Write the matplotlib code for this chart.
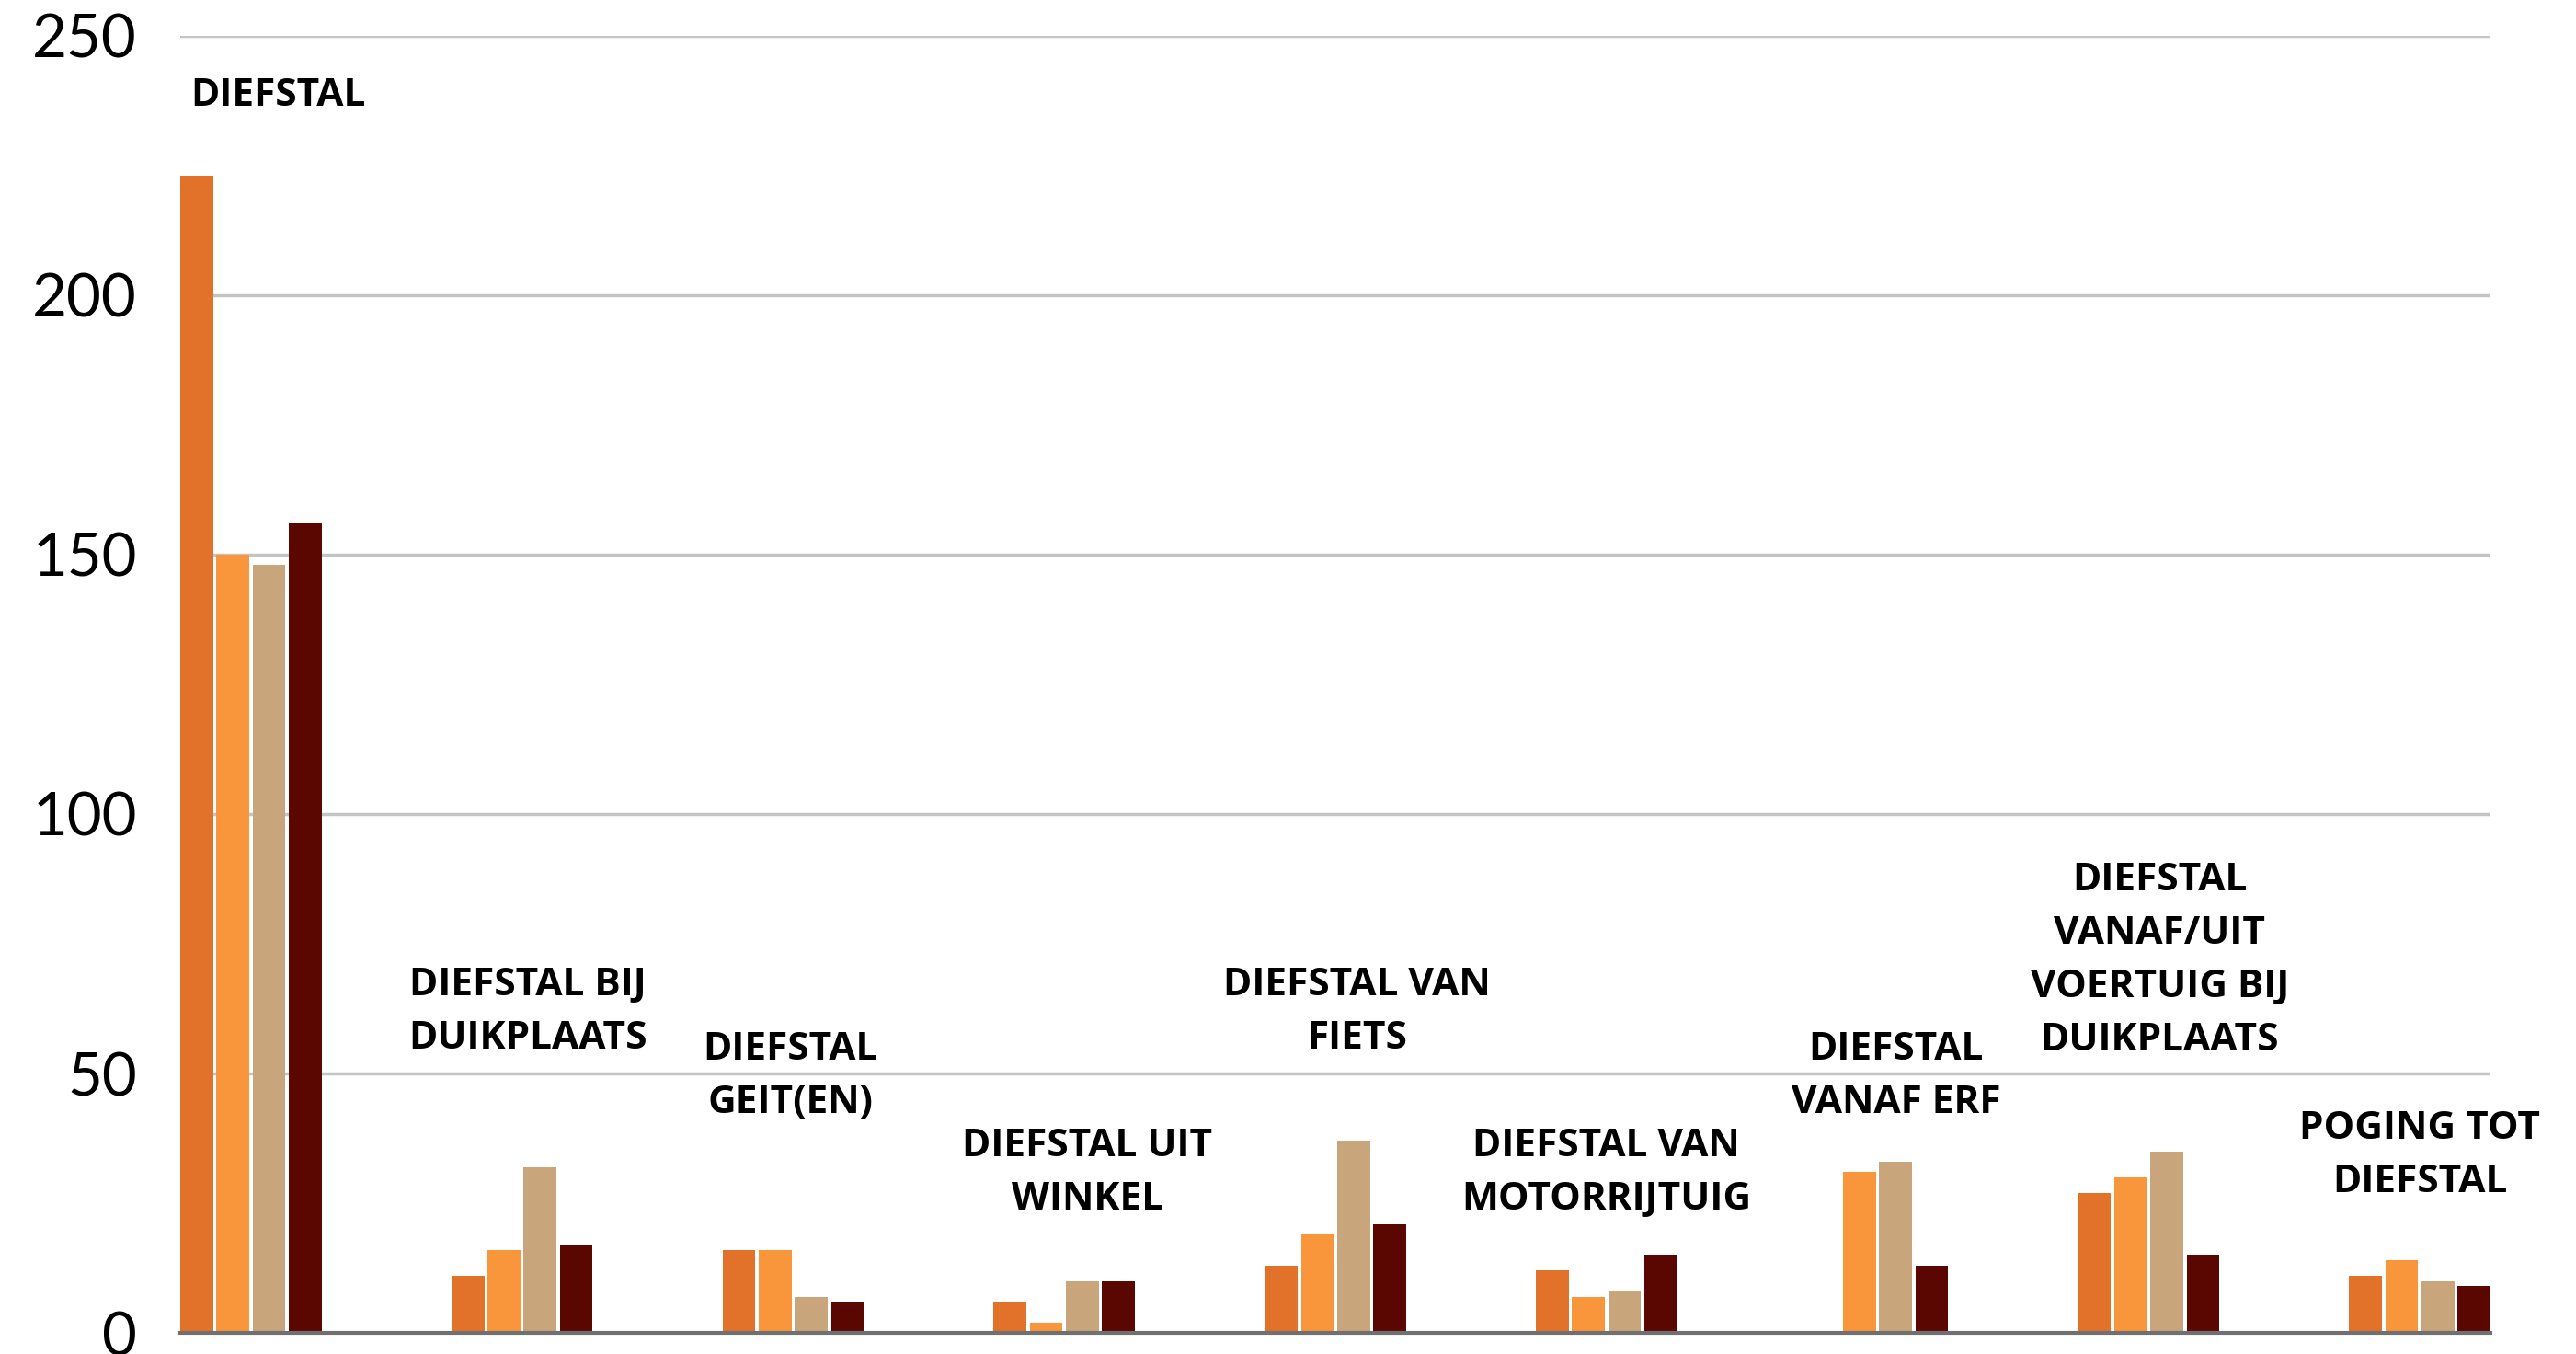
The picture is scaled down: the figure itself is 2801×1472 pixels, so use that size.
import numpy as np
import matplotlib
matplotlib.use("Agg")
import matplotlib.pyplot as plt

# categories and the four series (one bar per series in each group)
categories = [
    "DIEFSTAL",
    "DIEFSTAL BIJ\nDUIKPLAATS",
    "DIEFSTAL\nGEIT(EN)",
    "DIEFSTAL UIT\nWINKEL",
    "DIEFSTAL VAN\nFIETS",
    "DIEFSTAL VAN\nMOTORRIJTUIG",
    "DIEFSTAL\nVANAF ERF",
    "DIEFSTAL\nVANAF/UIT\nVOERTUIG BIJ\nDUIKPLAATS",
    "POGING TOT\nDIEFSTAL",
]
series_1 = [223, 11, 16, 6, 13, 12, np.nan, 27, 11]
series_2 = [150, 16, 16, 2, 19, 7, 31, 30, 14]
series_3 = [148, 32, 7, 10, 37, 8, 33, 35, 10]
series_4 = [156, 17, 6, 10, 21, 15, 13, 15, 9]
y_ticks = [0, 50, 100, 150, 200, 250]

# layout of the category labels (height of the bottom line, x offset)
label_y = [239, 57.3, 44.9, 26.3, 57.3, 26.3, 44.9, 57.0, 29.7]
label_dx = [0.10, 0.02, -0.01, 0.085, 0.08, 0.0, 0.067, 0.04, 0.0]

colors = ["#E2722A", "#F9963C", "#C8A57B", "#5A0701"]

fig = plt.figure(figsize=(28.01, 14.72), dpi=100)
ax = fig.add_axes([0.070, 0.0156, 0.8968, 0.958])

x = np.arange(len(categories))
pitch = 0.1333
width = 0.121
for j, vals in enumerate([series_1, series_2, series_3, series_4]):
    ax.bar(x + (j - 1.5) * pitch, vals, width=width, color=colors[j], zorder=3)

ax.set_xlim(-1.5 * pitch - width / 2, len(categories) - 1 + 1.5 * pitch + width / 2)
ax.set_ylim(0, 250)
ax.set_yticks(y_ticks)
ax.set_yticklabels([str(t) for t in y_ticks], fontsize=47, family="Lato",
                   color="black")
ax.set_xticks([])
ax.tick_params(axis="y", length=0, pad=34)
ax.yaxis.grid(True, color="#C4C4C4", linewidth=2.5, zorder=0)
for s in ["top", "right", "left"]:
    ax.spines[s].set_visible(False)
ax.spines["bottom"].set_color("#707070")
ax.spines["bottom"].set_linewidth(3)
ax.spines["bottom"].set_zorder(4)

# labels anchored by their bottom line
for i, lab in enumerate(categories):
    ax.text(i + label_dx[i], label_y[i] - 4.3, lab, ha="center", va="bottom",
            fontsize=30.5, fontweight="bold", family="Open Sans",
            linespacing=1.55, multialignment="center", clip_on=False)

fig.savefig("out.png", dpi=100)
